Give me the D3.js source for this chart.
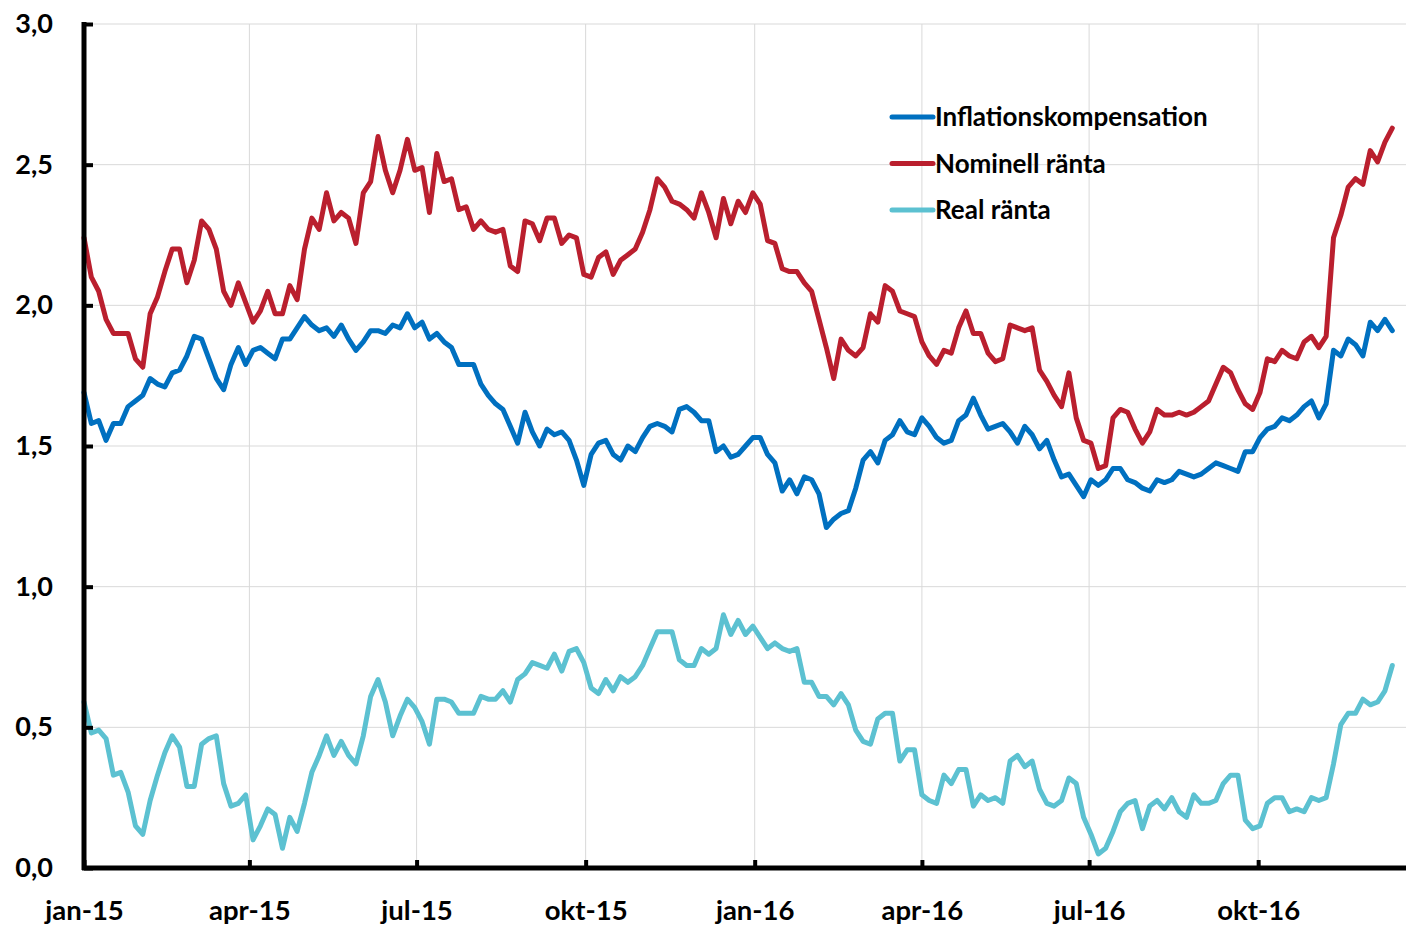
<!DOCTYPE html>
<html>
<head>
<meta charset="utf-8">
<script src="https://cdn.jsdelivr.net/npm/d3@7"></script>
<style>
  body { margin: 0; background: #fff; }
  svg { display: block; font-family: Lato, "Open Sans", sans-serif; font-weight: bold; }
</style>
</head>
<body>
<svg id="chart" width="1406" height="926"></svg>
<script>
// observations every 4 days from 1 jan 2015
const startDate = new Date(2015, 0, 1);
const stepDays = 4;

const inflation = [
  1.69, 1.58, 1.59, 1.52, 1.58, 1.58, 1.64, 1.66, 1.68, 1.74,
  1.72, 1.71, 1.76, 1.77, 1.82, 1.89, 1.88, 1.81, 1.74, 1.70,
  1.79, 1.85, 1.79, 1.84, 1.85, 1.83, 1.81, 1.88, 1.88, 1.92,
  1.96, 1.93, 1.91, 1.92, 1.89, 1.93, 1.88, 1.84, 1.87, 1.91,
  1.91, 1.90, 1.93, 1.92, 1.97, 1.92, 1.94, 1.88, 1.90, 1.87,
  1.85, 1.79, 1.79, 1.79, 1.72, 1.68, 1.65, 1.63, 1.57, 1.51,
  1.62, 1.55, 1.50, 1.56, 1.54, 1.55, 1.52, 1.45, 1.36, 1.47,
  1.51, 1.52, 1.47, 1.45, 1.50, 1.48, 1.53, 1.57, 1.58, 1.57,
  1.55, 1.63, 1.64, 1.62, 1.59, 1.59, 1.48, 1.50, 1.46, 1.47,
  1.50, 1.53, 1.53, 1.47, 1.44, 1.34, 1.38, 1.33, 1.39, 1.38,
  1.33, 1.21, 1.24, 1.26, 1.27, 1.35, 1.45, 1.48, 1.44, 1.52,
  1.54, 1.59, 1.55, 1.54, 1.60, 1.57, 1.53, 1.51, 1.52, 1.59,
  1.61, 1.67, 1.61, 1.56, 1.57, 1.58, 1.55, 1.51, 1.57, 1.54,
  1.49, 1.52, 1.45, 1.39, 1.40, 1.36, 1.32, 1.38, 1.36, 1.38,
  1.42, 1.42, 1.38, 1.37, 1.35, 1.34, 1.38, 1.37, 1.38, 1.41,
  1.40, 1.39, 1.40, 1.42, 1.44, 1.43, 1.42, 1.41, 1.48, 1.48,
  1.53, 1.56, 1.57, 1.60, 1.59, 1.61, 1.64, 1.66, 1.60, 1.65,
  1.84, 1.82, 1.88, 1.86, 1.82, 1.94, 1.91, 1.95, 1.91
];

const nominal = [
  2.24, 2.10, 2.05, 1.95, 1.90, 1.90, 1.90, 1.81, 1.78, 1.97,
  2.03, 2.12, 2.20, 2.20, 2.08, 2.16, 2.30, 2.27, 2.20, 2.05,
  2.00, 2.08, 2.01, 1.94, 1.98, 2.05, 1.97, 1.97, 2.07, 2.02,
  2.20, 2.31, 2.27, 2.40, 2.30, 2.33, 2.31, 2.22, 2.40, 2.44,
  2.60, 2.48, 2.40, 2.48, 2.59, 2.48, 2.49, 2.33, 2.54, 2.44,
  2.45, 2.34, 2.35, 2.27, 2.30, 2.27, 2.26, 2.27, 2.14, 2.12,
  2.30, 2.29, 2.23, 2.31, 2.31, 2.22, 2.25, 2.24, 2.11, 2.10,
  2.17, 2.19, 2.11, 2.16, 2.18, 2.20, 2.26, 2.34, 2.45, 2.42,
  2.37, 2.36, 2.34, 2.31, 2.40, 2.33, 2.24, 2.38, 2.29, 2.37,
  2.33, 2.40, 2.36, 2.23, 2.22, 2.13, 2.12, 2.12, 2.08, 2.05,
  1.95, 1.85, 1.74, 1.88, 1.84, 1.82, 1.85, 1.97, 1.94, 2.07,
  2.05, 1.98, 1.97, 1.96, 1.87, 1.82, 1.79, 1.84, 1.83, 1.92,
  1.98, 1.90, 1.90, 1.83, 1.80, 1.81, 1.93, 1.92, 1.91, 1.92,
  1.77, 1.73, 1.68, 1.64, 1.76, 1.60, 1.52, 1.51, 1.42, 1.43,
  1.60, 1.63, 1.62, 1.56, 1.51, 1.55, 1.63, 1.61, 1.61, 1.62,
  1.61, 1.62, 1.64, 1.66, 1.72, 1.78, 1.76, 1.70, 1.65, 1.63,
  1.69, 1.81, 1.80, 1.84, 1.82, 1.81, 1.87, 1.89, 1.85, 1.89,
  2.24, 2.32, 2.42, 2.45, 2.43, 2.55, 2.51, 2.58, 2.63
];

const real = [
  0.59, 0.48, 0.49, 0.46, 0.33, 0.34, 0.27, 0.15, 0.12, 0.24,
  0.33, 0.41, 0.47, 0.43, 0.29, 0.29, 0.44, 0.46, 0.47, 0.30,
  0.22, 0.23, 0.26, 0.10, 0.15, 0.21, 0.19, 0.07, 0.18, 0.13,
  0.23, 0.34, 0.40, 0.47, 0.40, 0.45, 0.40, 0.37, 0.47, 0.61,
  0.67, 0.59, 0.47, 0.54, 0.60, 0.57, 0.52, 0.44, 0.60, 0.60,
  0.59, 0.55, 0.55, 0.55, 0.61, 0.60, 0.60, 0.63, 0.59, 0.67,
  0.69, 0.73, 0.72, 0.71, 0.76, 0.70, 0.77, 0.78, 0.73, 0.64,
  0.62, 0.67, 0.63, 0.68, 0.66, 0.68, 0.72, 0.78, 0.84, 0.84,
  0.84, 0.74, 0.72, 0.72, 0.78, 0.76, 0.78, 0.90, 0.83, 0.88,
  0.83, 0.86, 0.82, 0.78, 0.80, 0.78, 0.77, 0.78, 0.66, 0.66,
  0.61, 0.61, 0.58, 0.62, 0.58, 0.49, 0.45, 0.44, 0.53, 0.55,
  0.55, 0.38, 0.42, 0.42, 0.26, 0.24, 0.23, 0.33, 0.30, 0.35,
  0.35, 0.22, 0.26, 0.24, 0.25, 0.23, 0.38, 0.40, 0.36, 0.38,
  0.28, 0.23, 0.22, 0.24, 0.32, 0.30, 0.18, 0.12, 0.05, 0.07,
  0.13, 0.20, 0.23, 0.24, 0.14, 0.22, 0.24, 0.21, 0.25, 0.20,
  0.18, 0.26, 0.23, 0.23, 0.24, 0.30, 0.33, 0.33, 0.17, 0.14,
  0.15, 0.23, 0.25, 0.25, 0.20, 0.21, 0.20, 0.25, 0.24, 0.25,
  0.37, 0.51, 0.55, 0.55, 0.60, 0.58, 0.59, 0.63, 0.72
];

const seriesNames = ["Inflationskompensation", "Nominell ränta", "Real ränta"];
const seriesColors = ["#0070c0", "#ba1f2e", "#5cc1d1"];
const monthNames = ["jan", "feb", "mar", "apr", "maj", "jun", "jul", "aug", "sep", "okt", "nov", "dec"];
const yTicks = [0, 0.5, 1, 1.5, 2, 2.5, 3];

const dates = inflation.map((_, i) => d3.timeDay.offset(startDate, i * stepDays));

const svg = d3.select("#chart");
const width = 1406, height = 926;
const margin = { top: 24, right: 0, bottom: 58, left: 84 };

svg.append("rect").attr("width", width).attr("height", height).attr("fill", "#fff");

const x = d3.scaleTime()
  .domain([startDate, new Date(2016, 11, 21)])
  .range([margin.left, width + 1]);

const y = d3.scaleLinear()
  .domain([0, 3])
  .range([height - margin.bottom, margin.top]);

const quarterTicks = d3.timeMonth.every(3).range(startDate, new Date(2016, 11, 2));

// gridlines
const grid = svg.append("g").attr("stroke", "#d9d9d9").attr("stroke-width", 1);
grid.selectAll(".hgrid")
  .data(yTicks.slice(1))
  .enter()
  .append("line")
  .attr("class", "hgrid")
  .attr("x1", margin.left)
  .attr("x2", width)
  .attr("y1", (d) => y(d))
  .attr("y2", (d) => y(d));
grid.selectAll(".vgrid")
  .data(quarterTicks.slice(1))
  .enter()
  .append("line")
  .attr("class", "vgrid")
  .attr("x1", (d) => x(d))
  .attr("x2", (d) => x(d))
  .attr("y1", margin.top)
  .attr("y2", y(0));

// lines
const allSeries = [real, nominal, inflation];
const order = [2, 1, 0];
const line = d3.line()
  .x((d, i) => x(dates[i]))
  .y((d) => y(d));

svg.append("g")
  .selectAll("path")
  .data(allSeries)
  .enter()
  .append("path")
  .attr("fill", "none")
  .attr("stroke", (d, i) => seriesColors[order[i]])
  .attr("stroke-width", 5)
  .attr("stroke-linejoin", "round")
  .attr("stroke-linecap", "round")
  .attr("d", line);

// axes
const xAxis = d3.axisBottom(x)
  .tickValues(quarterTicks)
  .tickSize(-8)
  .tickSizeOuter(0)
  .tickPadding(32)
  .tickFormat((d) => monthNames[d.getMonth()] + "-" + String(d.getFullYear()).slice(2));

const gx = svg.append("g")
  .attr("transform", `translate(0,${y(0)})`)
  .call(xAxis);
gx.select(".domain").attr("stroke", "#000").attr("stroke-width", 5)
  .attr("d", `M${margin.left - 2},0H${width}`);
gx.selectAll(".tick line").attr("stroke", "#000").attr("stroke-width", 4);
gx.selectAll(".tick text")
  .attr("fill", "#000")
  .style("font-size", "27.5px")
  .style("font-family", "Lato, sans-serif")
  .style("font-weight", "bold");

const yAxis = d3.axisLeft(y)
  .tickValues(yTicks)
  .tickSize(-9)
  .tickSizeOuter(0)
  .tickPadding(31)
  .tickFormat((d) => d3.format(".1f")(d).replace(".", ","));

const gy = svg.append("g")
  .attr("transform", `translate(${margin.left},0)`)
  .call(yAxis);
gy.select(".domain").attr("stroke", "#000").attr("stroke-width", 5)
  .attr("d", `M0,${margin.top - 2}V${y(0) + 2}`);
gy.selectAll(".tick line").attr("stroke", "#000").attr("stroke-width", 4);
gy.selectAll(".tick text")
  .attr("fill", "#000")
  .style("font-size", "27px")
  .style("font-family", "Lato, sans-serif")
  .style("font-weight", "bold");

// legend
const legend = svg.append("g").attr("transform", "translate(892,117)");
const legendItems = legend.selectAll("g")
  .data(seriesNames)
  .enter()
  .append("g")
  .attr("transform", (d, i) => `translate(0,${i * 46.5})`);
legendItems.append("line")
  .attr("x1", 0)
  .attr("x2", 41)
  .attr("stroke", (d, i) => seriesColors[i])
  .attr("stroke-width", 5)
  .attr("stroke-linecap", "round");
legendItems.append("text")
  .attr("x", 43)
  .attr("dy", "0.36em")
  .style("font-size", "26px")
  .text((d) => d);
</script>
</body>
</html>
